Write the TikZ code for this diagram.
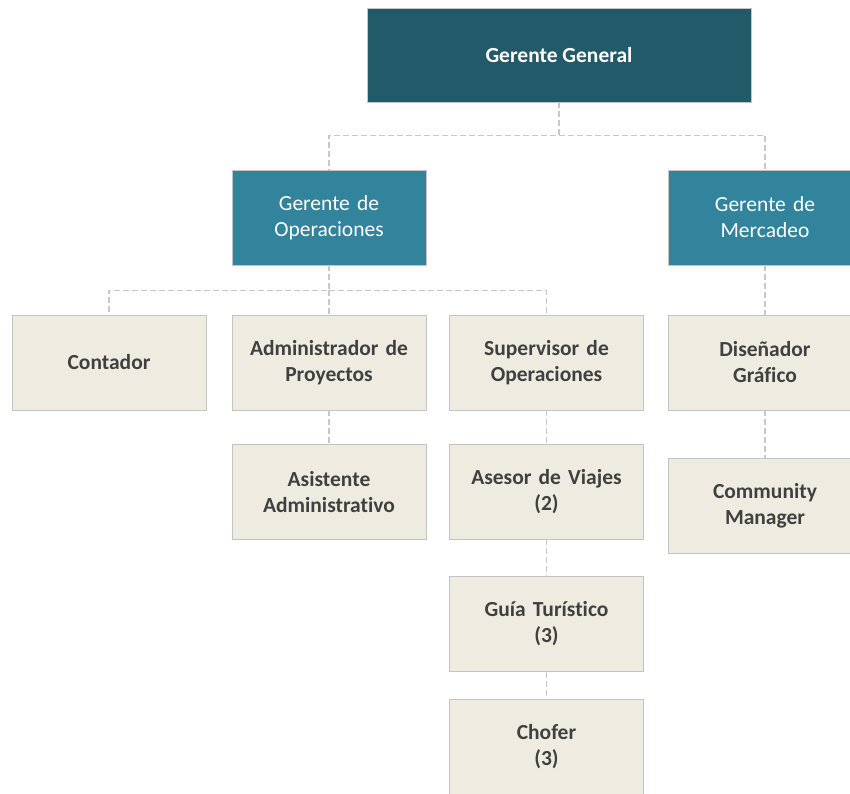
\documentclass[tikz,border=0pt]{standalone}
\usepackage{fontspec}
\setmainfont{Carlito}[Ligatures=NoCommon]
\usepackage{tikz}
\usetikzlibrary{shapes.geometric}
\definecolor{ggteal}{HTML}{235A69}
\definecolor{mgrteal}{HTML}{31849B}
\definecolor{staffbg}{HTML}{EEECE1}
\definecolor{boxline}{HTML}{C4C4C4}
\definecolor{dashgray}{HTML}{C8C8C8}
\definecolor{staffink}{HTML}{404040}
\tikzstyle{general} = [rectangle, minimum width=384pt, minimum height=94pt, text centered, draw=boxline, line width=0.8pt, fill=ggteal, text=white, font=\fontsize{21.5}{26}\selectfont\bfseries]
\tikzstyle{manager} = [rectangle, minimum width=194pt, minimum height=95pt, text width=186pt, align=center, draw=boxline, line width=0.8pt, fill=mgrteal, text=white, font=\fontsize{21.5}{26}\selectfont]
\tikzstyle{staff} = [rectangle, minimum width=194pt, minimum height=95pt, text width=186pt, align=center, draw=boxline, line width=0.8pt, fill=staffbg, text=staffink, font=\fontsize{21.5}{26}\selectfont\bfseries]
\tikzstyle{link} = [draw=dashgray, line width=1.6pt, dash pattern=on 6pt off 3pt]

\begin{document}
\begin{tikzpicture}[node distance=145pt]
        \clip (0pt,0pt) rectangle (850pt,-793pt);
        % Nodes
        \node (gg) [general] at (559pt,-55pt) {Gerente General};
        \node (go) [manager, below of=gg, yshift=-17.5pt, xshift=-230pt] {Gerente de\\Operaciones};
        \node (gm) [manager, right of=go, xshift=291pt] {Gerente de\\Mercadeo};
        \node (adm) [staff, below of=go] {Administrador de\\Proyectos};
        \node (cont) [staff, left of=adm, xshift=-75pt] {Contador};
        \node (sup) [staff, right of=adm, xshift=72.5pt] {Supervisor de\\Operaciones};
        \node (dis) [staff, below of=gm] {Diseñador\\Gráfico};
        \node (asis) [staff, below of=adm, yshift=15.5pt] {Asistente\\Administrativo};
        \node (ases) [staff, below of=sup, yshift=16pt] {Asesor de Viajes\\(2)};
        \node (cm) [staff, below of=dis, yshift=2pt] {Community\\Manager};
        \node (guia) [staff, below of=ases, yshift=12.5pt] {Guía Turístico\\(3)};
        \node (chof) [staff, below of=guia, yshift=22.5pt] {Chofer\\(3)};

        % Lines
        \coordinate (ggbus) at ([yshift=-33pt]gg.south);
        \coordinate (gobus) at ([yshift=-25pt]go.south);
        \draw [link] (gg.south) -- (ggbus) -| (go.north);
        \draw [link] (ggbus) -| (gm.north);
        \draw [link] (go.south) -- (gobus) -| (cont.north);
        \draw [link] (gobus) -| (sup.north);
        \draw [link] (gobus) -- (adm.north);
        \draw [link] (adm) -- (asis);
        \draw [link] (sup) -- (ases);
        \draw [link] (ases) -- (guia);
        \draw [link] (guia) -- (chof);
        \draw [link] (gm) -- (dis);
        \draw [link] (dis.south) -- (dis.south |- cm.north);
    \end{tikzpicture}
\end{document}
